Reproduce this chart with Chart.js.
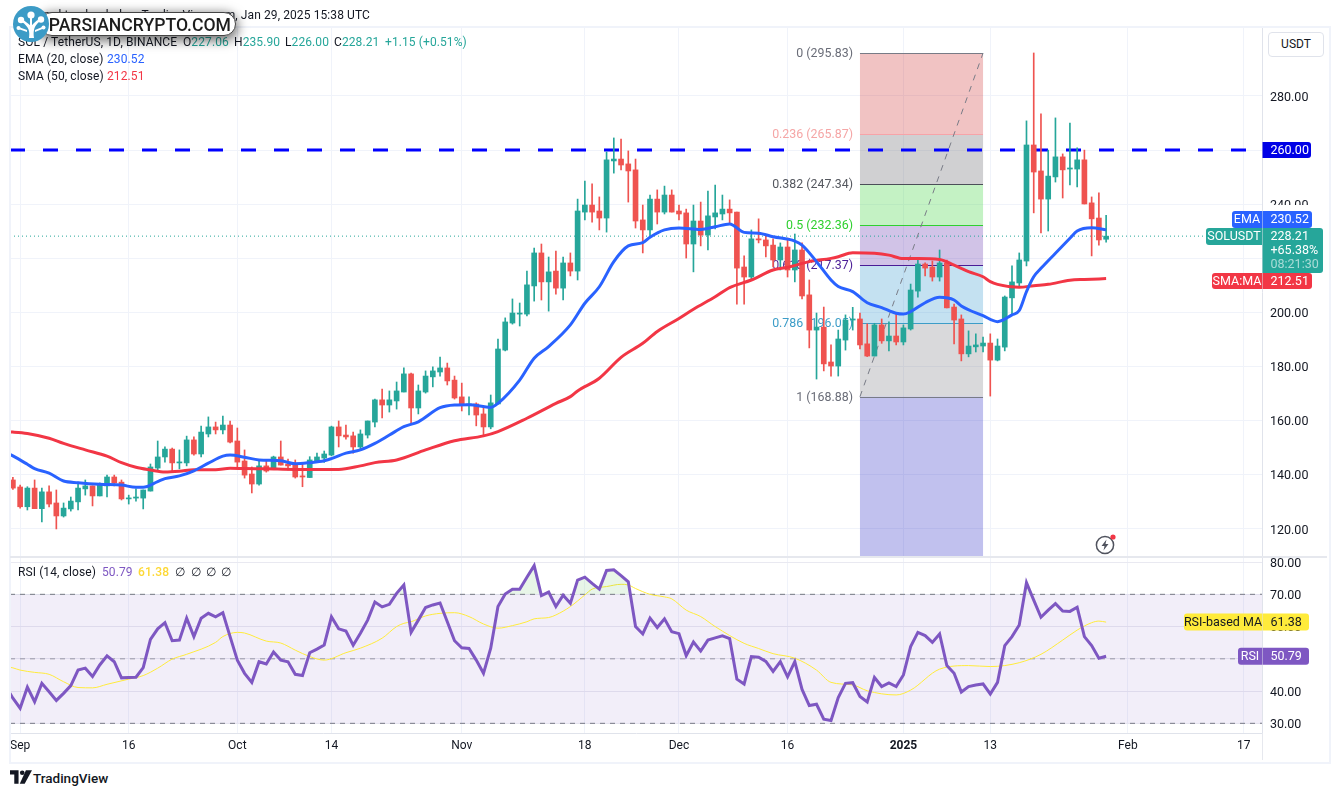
<!DOCTYPE html>
<html>
<head>
<meta charset="utf-8">
<title>SOL / TetherUS daily</title>
<script src="https://cdn.jsdelivr.net/npm/chart.js@4"></script>
<style>
  html, body { margin: 0; padding: 0; background: #fff; width: 1338px; height: 796px; overflow: hidden; }
  body { font-family: Roboto, "Noto Sans", sans-serif; color: #131722; position: relative; }
  canvas { position: absolute; left: 0; display: block; }
  .t { position: absolute; font-size: 12px; line-height: 16px; white-space: nowrap; letter-spacing: .1px; }
  .frame { position: absolute; left: 9px; top: 26px; width: 1318px; height: 734px; border: 2px solid #f0f3fa; box-sizing: content-box; pointer-events: none; }
  .rule { position: absolute; background: #e6e8ee; }
  .unit { position: absolute; left: 1268px; top: 32px; width: 54px; height: 23px; border: 1px solid #e0e3eb; border-radius: 4px; font-size: 12px; line-height: 23px; text-align: center; background: #fff; }
  .pill { position: absolute; left: 40px; top: 12px; width: 196px; height: 24px; background: #fff; border: 1px solid #444; border-radius: 12px; box-shadow: 0 3px 11px 2px rgba(0,0,0,.55); font: 500 17.6px/24px Roboto, sans-serif; color: #1c1c1c; text-align: right; padding-right: 4px; box-sizing: border-box; }
  .mark { position: absolute; left: 12px; top: 5px; }
  .flash { position: absolute; left: 1094px; top: 533px; }
  .brand { position: absolute; left: 10px; top: 770px; }
  .brandName { position: absolute; left: 33px; top: 770px; font-size: 13.5px; line-height: 16px; font-weight: 500; color: #131722; }
</style>
</head>
<body>
<canvas id="priceChart" width="1338" height="556" style="top:0"></canvas>
<canvas id="rsiChart" width="1338" height="206" style="top:556px"></canvas>
<div class="frame"></div>
<div class="rule" style="left:10px;top:556px;width:1317px;height:1.5px"></div>
<div class="rule" style="left:1262px;top:733px;width:1px;height:27px"></div>

<div class="t" style="right:968px;top:7px">mrkt uploaded on TradingView.com, Jan 29, 2025 15:38 UTC</div>
<div class="t" style="left:18px;top:34px">SOL / TetherUS, 1D, BINANCE</div>
<div class="t" style="left:183px;top:34px">O<span style="color:#26a69a">227.06</span></div>
<div class="t" style="left:234px;top:34px">H<span style="color:#26a69a">235.90</span></div>
<div class="t" style="left:285px;top:34px">L<span style="color:#26a69a">226.00</span></div>
<div class="t" style="left:334px;top:34px">C<span style="color:#26a69a">228.21</span></div>
<div class="t" style="left:385px;top:34px;color:#26a69a">+1.15 (+0.51%)</div>
<div class="t" style="left:18px;top:51px">EMA (20, close)</div>
<div class="t" style="left:107px;top:51px;color:#2962ff">230.52</div>
<div class="t" style="left:18px;top:68px">SMA (50, close)</div>
<div class="t" style="left:107px;top:68px;color:#f23645">212.51</div>
<div class="t" style="left:18px;top:564px">RSI (14, close)</div>
<div class="t" style="left:102px;top:564px;color:#7e57c2">50.79</div>
<div class="t" style="left:138px;top:564px;color:#fdd835;font-weight:500">61.38</div>
<div class="t" style="left:175px;top:564px">∅</div>
<div class="t" style="left:191px;top:564px">∅</div>
<div class="t" style="left:206px;top:564px">∅</div>
<div class="t" style="left:221px;top:564px">∅</div>

<div class="unit">USDT</div>

<div class="pill">PARSIANCRYPTO.COM</div>
<svg class="mark" width="38" height="38" viewBox="0 0 38 38">
  <circle cx="19" cy="19" r="18" fill="#3c9bc6"/>
  <g fill="#fff">
    <path d="M17 33 C18 26 17 22 10 17 L12 15.5 C16 18.5 18 20 19 21.5 C20 20 22 18 25.5 15 L27.5 16.5 C22 21 21 26 22 33 Z"/>
    <circle cx="9" cy="15" r="3.2"/>
    <circle cx="29" cy="14.5" r="3.2"/>
    <circle cx="19" cy="10" r="3.6"/>
    <path d="M18 12 h2 v10 h-2 Z"/>
    <circle cx="6.5" cy="23" r="2"/>
    <circle cx="31.5" cy="22.5" r="2"/>
    <path d="M6.5 22 L15 25 L15 27 L6.5 24 Z"/>
    <path d="M31.5 21.5 L23 25 L23 27 L31.5 23.5 Z"/>
  </g>
</svg>

<svg class="flash" width="24" height="24" viewBox="0 0 24 24">
  <circle cx="11" cy="12" r="8.6" fill="#fff" stroke="#50535e" stroke-width="1.5"/>
  <path d="M12.5 6.5 L7.5 13 H10.5 L9.5 17.5 L14.5 11 H11.5 Z" fill="#50535e"/>
  <circle cx="19" cy="4" r="2.6" fill="#f23645"/>
</svg>

<svg class="brand" width="22" height="14" viewBox="0 0 36 22">
  <path fill="#131722" d="M0 0 H14 V22 H7 V7 H0 Z"/>
  <circle cx="20" cy="4" r="3.8" fill="#131722"/>
  <path fill="#131722" d="M24 22 H16 L26 0 H36 Z"/>
</svg>
<div class="brandName">TradingView</div>

<script>
// Daily candles, Aug 31 2024 = day 0
const opens = [
  138.1,135.5,128.2,135.1,127.5,133.7,129.6,124.8,127.4,130.0,
  134.8,135.9,132.2,135.9,139.2,137.3,131.1,131.4,131.4,134.0,
  142.5,146.6,149.5,144.4,144.4,152.9,147.7,155.1,157.7,156.6,
  158.4,152.5,145.1,140.3,136.6,143.3,142.2,146.6,144.0,143.6,
  139.6,139.0,145.1,146.2,147.3,157.7,154.7,154.4,150.3,154.7,
  159.5,167.7,165.8,167.3,170.6,177.3,164.7,170.6,176.2,178.0,
  179.5,175.0,168.8,165.8,166.2,162.5,157.7,166.2,186.1,196.1,
  199.4,199.4,209.8,222.0,211.3,215.3,209.0,218.3,215.3,237.1,
  239.7,237.5,234.9,256.0,256.7,254.9,252.7,234.2,230.5,241.9,
  237.1,243.4,237.5,236.8,225.3,233.8,228.6,235.3,236.4,238.2,
  237.1,216.8,213.1,227.2,226.8,224.9,219.4,224.2,215.7,223.1,
  206.5,193.5,194.6,181.7,180.2,189.8,197.2,197.6,188.4,183.9,
  195.4,189.5,191.3,189.1,193.9,207.9,217.9,216.8,213.1,218.3,
  202.0,197.6,184.7,187.3,187.6,188.7,182.4,187.2,205.4,210.9,
  219.0,261.9,252.3,241.9,250.1,257.5,253.0,253.0,256.4,240.5,
  234.9,227.06
];
const highs = [
  139.1,136.2,135.6,138.1,135.1,135.9,134.4,129.6,131.8,137.3,
  138.1,135.9,137.0,139.9,139.9,138.1,132.5,134.8,134.4,144.0,
  152.5,150.3,149.9,149.2,154.3,154.0,158.0,161.4,159.5,161.7,
  159.9,157.3,149.2,142.9,145.1,145.1,146.9,152.5,145.8,145.5,
  144.3,146.7,148.0,148.8,158.0,159.9,158.4,155.8,156.6,159.9,
  168.0,171.7,171.0,174.3,179.5,177.6,173.2,178.4,179.9,183.5,
  181.3,176.5,173.9,168.8,166.6,165.1,169.5,190.2,198.0,205.0,
  203.5,215.3,223.8,225.3,220.5,222.7,220.5,222.0,241.9,248.6,
  247.5,242.7,259.3,264.5,264.1,259.7,256.7,239.7,243.4,245.3,
  246.7,245.3,239.7,238.2,239.7,240.8,244.9,247.1,243.4,241.6,
  237.1,220.9,230.5,234.6,228.3,227.2,225.7,227.5,229.0,225.7,
  212.0,199.8,202.0,188.0,193.5,199.1,201.9,199.8,195.8,196.0,
  197.6,196.5,199.4,195.4,210.5,219.4,218.3,219.0,223.1,219.4,
  203.1,199.1,193.2,192.1,190.9,192.1,190.2,206.1,217.2,222.0,
  270.8,295.9,273.4,260.0,271.9,258.6,270.0,260.8,260.0,242.7,
  244.2,235.90
];
const lows = [
  134.6,127.7,127.0,127.5,122.6,128.1,120.0,124.4,126.6,127.0,
  132.5,128.5,132.2,131.8,135.9,130.7,129.2,130.3,127.4,134.0,
  141.4,144.7,141.4,142.2,143.3,147.3,146.6,154.0,155.1,155.1,
  151.8,142.5,138.8,133.3,136.2,141.0,142.2,143.6,141.8,138.8,
  135.6,139.0,144.5,144.6,147.0,150.3,153.2,148.0,149.6,153.6,
  157.7,161.0,163.2,164.3,170.6,158.8,162.5,170.2,172.5,176.5,
  173.2,168.0,163.6,162.1,158.1,154.7,157.0,166.2,185.8,195.7,
  195.0,198.7,204.2,204.6,200.5,206.8,204.6,213.5,212.0,234.2,
  233.4,230.5,229.7,251.5,252.7,240.8,231.2,222.0,227.9,232.7,
  236.4,237.1,234.2,220.1,215.0,224.6,223.1,230.9,234.2,232.7,
  203.1,203.1,212.0,225.7,220.5,216.8,215.7,213.1,211.3,205.0,
  186.9,175.4,178.4,176.5,176.5,186.1,193.5,186.5,183.7,183.9,
  188.6,185.8,188.0,188.0,193.5,205.7,213.5,211.6,211.6,201.7,
  188.4,182.1,183.6,185.4,185.4,169.1,182.1,185.8,199.1,209.8,
  217.2,236.8,229.4,230.1,248.2,242.3,247.1,246.4,240.1,220.9,
  224.9,226.00
];
const closes = [
  135.1,128.2,135.1,127.5,133.7,129.2,124.8,127.7,130.3,135.1,
  135.9,132.2,136.2,139.2,137.0,131.1,131.4,131.8,134.4,142.9,
  146.6,149.5,144.4,144.7,152.9,147.7,155.8,157.7,156.6,158.4,
  152.1,144.7,139.9,136.6,143.3,141.4,146.6,143.6,143.3,139.2,
  139.2,145.5,146.6,147.7,157.7,154.4,154.0,150.3,155.1,159.9,
  167.7,165.8,167.7,171.0,177.3,164.7,171.0,176.5,178.4,179.5,
  174.7,168.4,165.8,166.2,162.1,157.7,166.6,186.5,196.5,199.8,
  199.8,210.2,222.0,211.3,215.0,209.0,218.3,215.3,237.5,239.7,
  237.1,234.9,256.4,256.7,254.5,252.3,233.8,230.5,241.9,237.1,
  243.4,237.1,236.4,225.3,233.8,228.6,235.7,236.8,238.2,236.8,
  216.4,213.1,227.2,226.8,224.6,219.4,224.2,215.7,223.1,206.1,
  193.5,194.6,181.0,180.2,190.2,197.2,197.6,188.0,183.9,195.4,
  189.5,191.3,189.1,194.3,208.3,217.9,216.4,213.1,218.3,201.7,
  197.2,184.7,187.6,188.0,188.7,182.4,187.6,205.7,211.3,219.4,
  261.9,251.9,241.9,250.4,257.5,252.7,253.4,256.4,240.1,234.6,
  226.8,228.21
];

// Moving averages, sampled on the days listed beside them
const emaDays = [-1,0,2,3,5,7,9,12,15,17,18,20,21,23,25,27,29,30,32,34,37,39,41,43,44,46,48,50,52,54,56,59,61,63,66,67,70,72,74,77,79,81,83,85,87,88,90,92,95,97,99,101,103,105,108,109,111,113,114,116,118,120,122,123,124,126,128,130,131,134,136,138,139,140,141,142,144,146,147,149,151];
const emaValues = [148.4,147.0,143.9,142.3,140.6,137.7,137.1,136.5,136.2,135.4,135.4,137.5,138.6,139.6,141.5,144.3,146.9,147.3,146.5,145.5,145.2,144.1,144.5,145.2,146.0,148.0,149.2,151.6,154.7,157.8,159.6,164.8,165.8,165.9,164.9,166.4,175.0,183.1,187.4,195.4,203.4,209.5,218.8,224.6,225.8,227.8,230.5,231.2,230.7,231.7,232.7,229.6,229.3,228.0,226.4,224.9,218.8,212.0,209.6,207.7,203.6,201.8,199.7,199.4,200.3,203.6,205.6,204.6,202.4,198.8,196.6,199.1,200.7,207.7,213.2,216.3,221.9,227.4,230.1,231.3,230.52];
const smaDays = [-1,0,2,5,7,10,13,15,17,19,21,23,25,28,30,32,35,39,45,48,50,53,57,61,65,67,71,75,77,78,81,84,87,89,92,94,97,99,102,105,107,110,113,114,116,119,121,123,125,128,130,132,134,135,136,139,141,143,146,148,151];
const smaValues = [155.9,155.8,155.3,153.5,151.6,149.2,146.9,144.5,142.8,141.8,141.0,141.3,141.9,141.9,142.4,142.3,142.2,142.0,142.0,143.3,144.5,145.5,149.2,152.6,154.4,156.0,160.9,166.4,168.9,171.0,175.7,183.4,188.6,193.0,197.8,201.2,205.8,209.2,212.0,215.7,216.7,218.8,220.0,220.6,222.1,221.9,221.2,219.9,219.9,219.6,217.5,215.1,213.2,211.4,210.4,209.3,209.9,210.4,211.9,212.2,212.51];

// RSI per candle, first entry is the day before the first candle
const rsiValues = [
  41.5,
  37.8,34.7,41.2,36.7,42.4,39.8,37.1,39.3,41.7,46.5,
  47.1,44.5,48.1,50.9,49.1,44.1,44.2,44.3,47.3,56.0,
  59.3,61.2,55.6,55.8,62.6,56.9,62.6,64.1,63.0,64.3,
  56.9,49.6,45.5,42.7,49.1,48.4,52.1,49.6,49.1,45.2,
  44.8,51.9,53.0,54.3,63.0,59.3,58.6,54.2,57.9,62.0,
  67.6,66.1,66.9,70.3,72.9,58.2,62.0,65.9,66.7,67.3,
  61.5,55.6,53.4,53.2,49.6,45.5,53.3,66.2,70.1,71.6,
  71.6,75.3,78.9,69.6,70.7,66.2,69.7,67.2,74.4,75.3,
  73.4,71.6,77.4,77.6,75.8,73.9,60.0,57.7,62.6,59.7,
  62.4,58.4,57.8,51.0,55.2,52.4,55.8,56.5,57.1,56.3,
  43.7,42.2,50.7,50.5,49.2,46.1,49.1,44.4,49.1,40.5,
  35.5,35.9,31.3,30.9,38.0,42.4,42.6,38.3,36.6,44.2,
  41.4,42.5,41.4,45.0,53.8,58.2,57.2,55.1,57.7,47.9,
  45.5,39.7,41.4,41.9,42.2,39.1,42.7,54.1,56.9,60.5,
  73.6,68.2,62.9,65.1,67.1,64.8,64.7,66.0,56.9,54.1,
  50.2,50.79
];
const rsiMaDays = [-1,0,1,3,5,7,9,11,13,16,18,20,22,24,28,29,31,32,35,37,39,41,43,46,48,51,53,54,55,57,59,61,63,65,67,69,71,72,74,75,77,79,80,82,84,85,86,88,90,91,93,95,97,101,103,105,108,111,113,116,118,122,124,128,132,135,139,142,145,147,149,150,151];
const rsiMaValues = [47.6,47.2,46.5,45.8,45.2,42.9,41.1,41.0,42.1,43.7,44.8,47.1,49.9,51.4,55.1,56.9,58.2,58.0,55.5,54.9,52.7,50.7,49.6,51.9,53.3,56.4,60.0,61.0,61.5,63.3,64.1,64.3,63.1,60.8,59.5,60.3,61.5,62.4,62.8,63.6,66.2,69.8,71.6,72.4,73.1,72.9,71.8,70.0,69.2,68.6,65.1,63.1,60.0,54.8,53.2,51.6,50.2,46.5,42.7,41.9,40.1,38.8,40.3,46.8,47.9,47.6,48.8,51.4,55.8,58.9,61.2,61.7,61.38];

// Fibonacci retracement anchored between two candles
const fibStartDay = 117;
const fibEndDay = 134;
const fibRatios = ['0','0.236','0.382','0.5','0.618','0.786','1'];
const fibPrices = [295.83,265.87,247.34,232.36,217.37,196.05,168.88];
const fibExtension = 90.4;
const fibLineColors = ['#787b86','#f7a3a8','#4c4f59','#2fd02f','#4a1d96','#3d9dc8','#787b86'];
const fibTextColors = ['#6a6d78','#f5a6a6','#55585f','#2fd02f','#4a1d96','#3d9dc8','#6a6d78'];
const fibFills = ['rgba(205,40,40,.28)','rgba(110,110,115,.32)','rgba(76,215,76,.33)','rgba(90,40,170,.28)','rgba(61,157,210,.3)','rgba(110,110,115,.26)','rgba(50,50,200,.3)'];

const supportLevel = 260;
const lastPrice = 228.21;

const priceTicks = [120,140,160,180,200,220,240,260,280];
const rsiTicks = [30,40,50,60,70,80];
const dayTicks = [1,16,31,44,62,79,92,107,123,135,154,170];
const dayLabels = ['Sep','16','Oct','14','Nov','18','Dec','16','2025','13','Feb','17'];

const GREEN = '#26a69a', RED = '#ef5350', EMA = '#2962ff', SMA = '#f23645', RSI = '#7e57c2', RSIMA = '#ffeb3b';
const FONT = 'Roboto, "Noto Sans", sans-serif';
const AXIS_FONT = { size: 12.5, family: FONT };
const dayMin = -0.4, dayMax = 172.53;

Chart.defaults.font.family = FONT;
Chart.defaults.font.size = 12;
Chart.defaults.color = '#131722';
Chart.defaults.animation = false;

const isUp = i => closes[i] >= opens[i];
const candleColors = opens.map((_, i) => isUp(i) ? GREEN : RED);
const pairs = (xs, ys) => xs.map((x, i) => ({ x, y: ys[i] }));

// The panes sit at fixed pixel rows, so label overhang must not shrink them
function noOverhang(s) {
  s.paddingTop = 0; s.paddingBottom = 0; s.paddingLeft = 0; s.paddingRight = 0;
}

function dayAxis(showLabels) {
  return {
    type: 'linear', min: dayMin, max: dayMax, offset: false,
    afterBuildTicks(s) { s.ticks = dayTicks.map(value => ({ value })); },
    afterFit(s) { s.height = showLabels ? 29 : 0; noOverhang(s); },
    border: { display: showLabels, color: '#e0e3eb' },
    grid: { color: '#f0f3fa', drawTicks: false, offset: false },
    ticks: {
      display: showLabels, autoSkip: false, maxRotation: 0, padding: 6,
      callback: v => dayLabels[dayTicks.indexOf(v)],
      font: c => ({ size: 12, family: FONT, weight: c.tick && c.tick.label === '2025' ? 'bold' : 'normal' })
    }
  };
}

function sideLabel(ctx, x0, x1, y0, y1, fill, text, color, radiusLeft) {
  ctx.fillStyle = fill;
  ctx.beginPath();
  ctx.roundRect(x0, y0, x1 - x0, y1 - y0, radiusLeft ? [3, 0, 0, 3] : [0, 3, 3, 0]);
  ctx.fill();
  ctx.fillStyle = color;
  ctx.textAlign = radiusLeft ? 'center' : 'left';
  ctx.textBaseline = 'middle';
  ctx.font = '12.5px ' + FONT;
  ctx.fillText(text, radiusLeft ? (x0 + x1) / 2 : x0 + 8, (y0 + y1) / 2 + 0.5);
}

const fibPlugin = {
  id: 'fibRetracement',
  beforeDatasetsDraw(chart) {
    const { ctx, chartArea: a, scales: { x, y } } = chart;
    const x0 = x.getPixelForValue(fibStartDay), x1 = x.getPixelForValue(fibEndDay);
    const levels = fibPrices.concat(fibExtension);
    ctx.save();
    ctx.beginPath();
    ctx.rect(a.left, a.top, a.right - a.left, a.bottom - a.top);
    ctx.clip();
    fibFills.forEach((fill, i) => {
      const top = y.getPixelForValue(levels[i]), bottom = y.getPixelForValue(levels[i + 1]);
      ctx.fillStyle = fill;
      ctx.fillRect(x0, top, x1 - x0, bottom - top);
    });
    ctx.lineWidth = 1;
    fibPrices.forEach((p, i) => {
      const py = Math.round(y.getPixelForValue(p)) + 0.5;
      ctx.strokeStyle = fibLineColors[i];
      ctx.beginPath(); ctx.moveTo(x0, py); ctx.lineTo(x1, py); ctx.stroke();
      ctx.fillStyle = fibTextColors[i];
      ctx.font = '12.4px ' + FONT;
      ctx.textAlign = 'right';
      ctx.textBaseline = 'middle';
      ctx.fillText(fibRatios[i] + ' (' + p.toFixed(2) + ')', x0 - 7, py);
    });
    ctx.strokeStyle = '#787b86';
    ctx.setLineDash([6, 6]);
    ctx.beginPath();
    ctx.moveTo(x0, y.getPixelForValue(fibPrices[6]));
    ctx.lineTo(x1, y.getPixelForValue(fibPrices[0]));
    ctx.stroke();
    ctx.restore();
  }
};

const priceLabels = {
  id: 'priceLabels',
  afterDraw(chart) {
    const { ctx, scales: { y } } = chart;
    const level = y.getPixelForValue(supportLevel);
    ctx.save();
    ctx.fillStyle = '#fff';
    ctx.fillRect(1263, level - 9, 50, 18);
    sideLabel(ctx, 1262.5, 1311, level - 8, level + 8, '#0000e6', supportLevel.toFixed(2), '#fff', false);
    ctx.fillStyle = '#fff';
    ctx.fillRect(1263, 205, 60, 90);
    sideLabel(ctx, 1232, 1262, 211, 228, EMA, 'EMA', '#fff', true);
    sideLabel(ctx, 1262.5, 1312, 211, 228, EMA, '230.52', '#fff', false);
    sideLabel(ctx, 1206, 1262, 228, 245, GREEN, 'SOLUSDT', '#fff', true);
    sideLabel(ctx, 1262.5, 1323, 228, 273, GREEN, '', '#fff', false);
    ctx.textAlign = 'left';
    ctx.fillStyle = '#fff';
    ctx.fillText(lastPrice.toFixed(2), 1270.5, 237);
    ctx.fillText('+65.38%', 1270.5, 251);
    ctx.fillStyle = 'rgba(255,255,255,.6)';
    ctx.fillText('08:21:30', 1270.5, 265);
    sideLabel(ctx, 1212, 1262, 273, 289, SMA, 'SMA:MA', '#fff', true);
    sideLabel(ctx, 1262.5, 1312, 273, 289, SMA, '212.51', '#fff', false);
    ctx.restore();
  }
};

new Chart(document.getElementById('priceChart'), {
  type: 'bar',
  plugins: [fibPlugin, priceLabels],
  data: {
    datasets: [
      { type: 'line', order: 1, data: pairs(emaDays, emaValues), borderColor: EMA, borderWidth: 3, pointRadius: 0, cubicInterpolationMode: 'monotone' },
      { type: 'line', order: 2, data: pairs(smaDays, smaValues), borderColor: SMA, borderWidth: 3, pointRadius: 0, cubicInterpolationMode: 'monotone' },
      { order: 3, grouped: false, barThickness: 5, minBarLength: 1, backgroundColor: candleColors, data: opens.map((o, i) => ({ x: i, y: [Math.min(o, closes[i]), Math.max(o, closes[i])] })) },
      { order: 4, grouped: false, barThickness: 1, backgroundColor: candleColors, data: opens.map((_, i) => ({ x: i, y: [lows[i], highs[i]] })) },
      { type: 'line', order: 5, data: [{ x: dayMin, y: lastPrice }, { x: dayMax, y: lastPrice }], borderColor: GREEN, borderWidth: 1, borderDash: [1, 3], pointRadius: 0 },
      { type: 'line', order: 6, data: [{ x: dayMin, y: supportLevel }, { x: dayMax, y: supportLevel }], borderColor: '#0000ff', borderWidth: 3, borderDash: [15, 18], pointRadius: 0 }
    ]
  },
  options: {
    responsive: false,
    layout: { padding: { left: 10, top: 28, right: 0, bottom: 0 } },
    plugins: { legend: { display: false }, tooltip: { enabled: false } },
    scales: {
      x: dayAxis(false),
      y: {
        type: 'linear', position: 'right', min: 110.0, max: 305.13,
        afterBuildTicks(s) { s.ticks = priceTicks.map(value => ({ value })); },
        afterFit(s) { s.width = 76; noOverhang(s); },
        border: { color: '#e0e3eb' },
        grid: { color: '#f0f3fa', drawTicks: false },
        ticks: { padding: 8, labelOffset: 1.5, font: AXIS_FONT, callback: v => v.toFixed(2) }
      }
    }
  }
});

const rsiPlugin = {
  id: 'rsiBand',
  beforeDatasetsDraw(chart) {
    const { ctx, chartArea: a, scales: { y } } = chart;
    const top = y.getPixelForValue(70), bottom = y.getPixelForValue(30);
    ctx.save();
    ctx.fillStyle = 'rgba(126,87,194,.1)';
    ctx.fillRect(a.left, top, a.right - a.left, bottom - top);
    ctx.restore();
  },
  afterDraw(chart) {
    const { ctx, scales: { y } } = chart;
    const maY = y.getPixelForValue(61.38), rsiY = y.getPixelForValue(50.79);
    ctx.save();
    sideLabel(ctx, 1184, 1262, maY - 8.5, maY + 8.5, '#ffeb3b', 'RSI-based MA', '#131722', true);
    sideLabel(ctx, 1262.5, 1309, maY - 8.5, maY + 8.5, '#ffeb3b', '61.38', '#131722', false);
    sideLabel(ctx, 1238, 1262, rsiY - 8.5, rsiY + 8.5, RSI, 'RSI', '#fff', true);
    sideLabel(ctx, 1262.5, 1309, rsiY - 8.5, rsiY + 8.5, RSI, '50.79', '#fff', false);
    ctx.restore();
  }
};

const rsiGuide = (value, color) => ({
  type: 'line', order: 4, data: [{ x: dayMin, y: value }, { x: dayMax, y: value }],
  borderColor: color, borderWidth: 1, borderDash: [5, 5], pointRadius: 0
});

new Chart(document.getElementById('rsiChart'), {
  type: 'line',
  plugins: [rsiPlugin],
  data: {
    datasets: [
      { order: 1, data: rsiValues.map((y, i) => ({ x: i - 1, y })), borderColor: RSI, borderWidth: 3, pointRadius: 0,
        fill: { target: { value: 70 }, above: 'rgba(76,175,80,.13)', below: 'transparent' } },
      { order: 2, data: pairs(rsiMaDays, rsiMaValues), borderColor: RSIMA, borderWidth: 1, pointRadius: 0, cubicInterpolationMode: 'monotone' },
      rsiGuide(70, '#787b86'), rsiGuide(50, 'rgba(120,123,134,.7)'), rsiGuide(30, '#787b86')
    ]
  },
  options: {
    responsive: false,
    layout: { padding: { left: 10, top: 1, right: 0, bottom: 0 } },
    plugins: { legend: { display: false }, tooltip: { enabled: false } },
    scales: {
      x: dayAxis(true),
      y: {
        type: 'linear', position: 'right', min: 27.0, max: 81.57,
        afterBuildTicks(s) { s.ticks = rsiTicks.map(value => ({ value })); },
        afterFit(s) { s.width = 76; noOverhang(s); },
        border: { color: '#e0e3eb' },
        grid: { color: '#e9e9f1', drawTicks: false },
        ticks: { padding: 8, labelOffset: 1.5, font: AXIS_FONT, callback: v => v.toFixed(2) }
      }
    }
  }
});
</script>
</body>
</html>
